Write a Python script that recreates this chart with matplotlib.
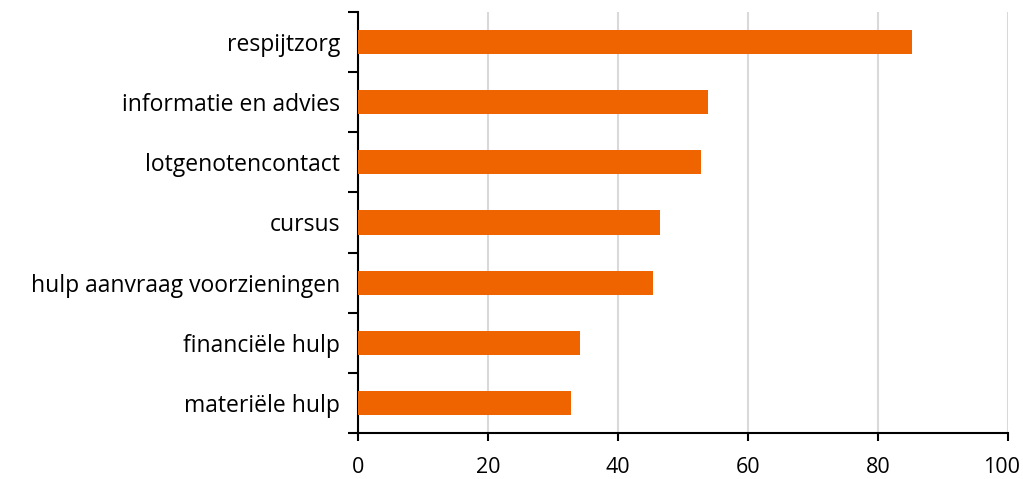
import matplotlib
matplotlib.use('Agg')
from matplotlib import pyplot as plt
from matplotlib.transforms import ScaledTranslation
import numpy as np

categories = ['respijtzorg', 'informatie en advies', 'lotgenotencontact', 'cursus',
              'hulp aanvraag voorzieningen', 'financiële hulp', 'materiële hulp']
values = [85.2, 53.8, 52.7, 46.5, 45.4, 34.1, 32.7]
xticks = [0, 20, 40, 60, 80, 100]

plt.rcParams['font.family'] = ['Open Sans', 'DejaVu Sans']

fig = plt.figure(figsize=(10.23, 4.79), dpi=100)
ax = fig.add_axes([0.35, 0.096, 0.6353, 0.879])

y = np.arange(len(categories))
ax.barh(y, values, height=0.4, color='#f06400', zorder=3)

ax.set_xlim(0, 100)
ax.set_ylim(len(categories) - 0.5, -0.5)
ax.set_xticks(xticks)
ax.set_xticklabels([str(t) for t in xticks], fontsize=15.5)
ax.grid(axis='x', color='#d9d9d9', linewidth=1.5, zorder=0)

# category labels at centres, tick marks at the boundaries
ax.set_yticks(y)
ax.set_yticklabels(categories, fontsize=16.5)
ax.tick_params(axis='y', length=0, pad=13)
ax.set_yticks(np.arange(-0.5, len(categories)), minor=True)
ax.tick_params(axis='y', which='minor', length=7, width=1.5, direction='out')
ax.tick_params(axis='x', length=6, width=1.5, direction='out', pad=11)

# nudge the last label so it stays inside the figure
last = ax.get_xticklabels()[-1]
last.set_transform(last.get_transform() + ScaledTranslation(-6 / 100, 0, fig.dpi_scale_trans))

for s in ['top', 'right']:
    ax.spines[s].set_visible(False)
for s in ['left', 'bottom']:
    ax.spines[s].set_linewidth(1.5)

fig.savefig('out.png', dpi=100)
